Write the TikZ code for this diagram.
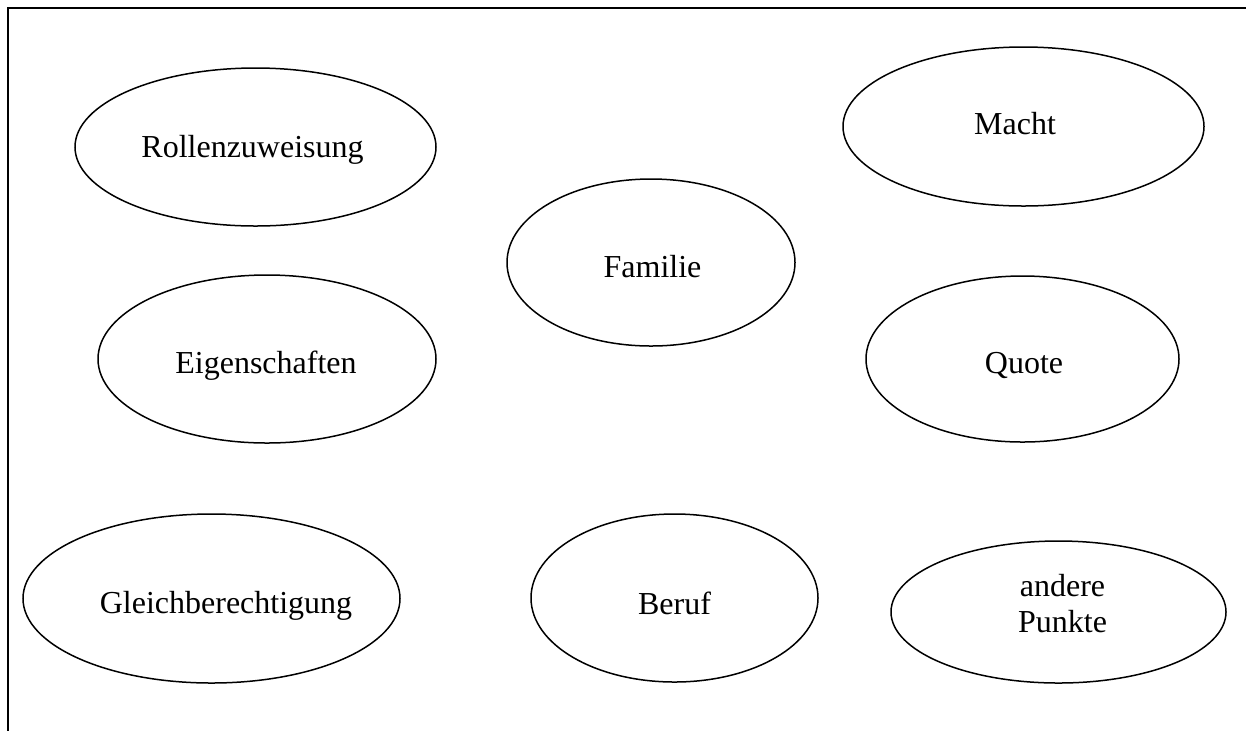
\documentclass[tikz,border=0pt]{standalone}
\usepackage{fontspec}
\setmainfont{Liberation Serif}
\usetikzlibrary{calc,shapes.geometric}
\tikzset{
  frame/.style={draw=black, line width=1pt, line cap=rect},
  blob/.style={ellipse, draw=black, line width=0.75pt, inner sep=0pt},
  word/.style={anchor=base, inner sep=0pt, font=\fontsize{16}{18}\selectfont},
  words/.style={anchor=center, inner sep=0pt, align=center, font=\fontsize{16}{18}\selectfont},
}

\begin{document}
\begin{tikzpicture}[x=0.5pt, y=-0.5pt]
  \useasboundingbox (0,0) rectangle (1246,730);
  % frame
  \coordinate (TL) at (8,8);
  \coordinate (TR) at (1246,8);
  \coordinate (BL) at (8,730);
  \draw[frame] (TR)--(TL)--(BL);

  % ellipses
  \node[blob, minimum width=180.5pt, minimum height=79pt]   (rolle)  at (255.5,147)  {};
  \node[blob, minimum width=180.5pt, minimum height=79.5pt] (macht)  at (1023.5,126.5) {};
  \node[blob, minimum width=144pt,   minimum height=83.5pt] (fam)    at (651,262.5)  {};
  \node[blob, minimum width=169pt,   minimum height=84pt]   (eigen)  at (267,359)    {};
  \node[blob, minimum width=156.5pt, minimum height=83pt]   (quote)  at (1022.5,359) {};
  \node[blob, minimum width=188.5pt, minimum height=84.5pt] (gleich) at (211.5,598.5) {};
  \node[blob, minimum width=143.5pt, minimum height=84pt]   (beruf)  at (674.5,598)  {};
  \node[blob, minimum width=167.5pt, minimum height=71pt]   (andere) at (1058.5,612) {};

  % texts
  \node[word] (trolle)  at ($(rolle)+(-3,10)$)   {Rollenzuweisung};
  \node[word] (tmacht)  at ($(macht)+(-8.5,7.5)$) {Macht};
  \node[word] (tfam)    at ($(fam)+(1.5,14.5)$)   {Familie};
  \node[word] (teigen)  at ($(eigen)+(-1,14)$)    {Eigenschaften};
  \node[word] (tquote)  at ($(quote)+(1.5,14)$)   {Quote};
  \node[word] (tgleich) at ($(gleich)+(14.5,14.5)$) {Gleichberechtigung};
  \node[word] (tberuf)  at ($(beruf)+(0,16)$)     {Beruf};
  \node[words] (tandere) at ($(andere)+(4,-8)$)   {andere\\Punkte};
\end{tikzpicture}
\end{document}
